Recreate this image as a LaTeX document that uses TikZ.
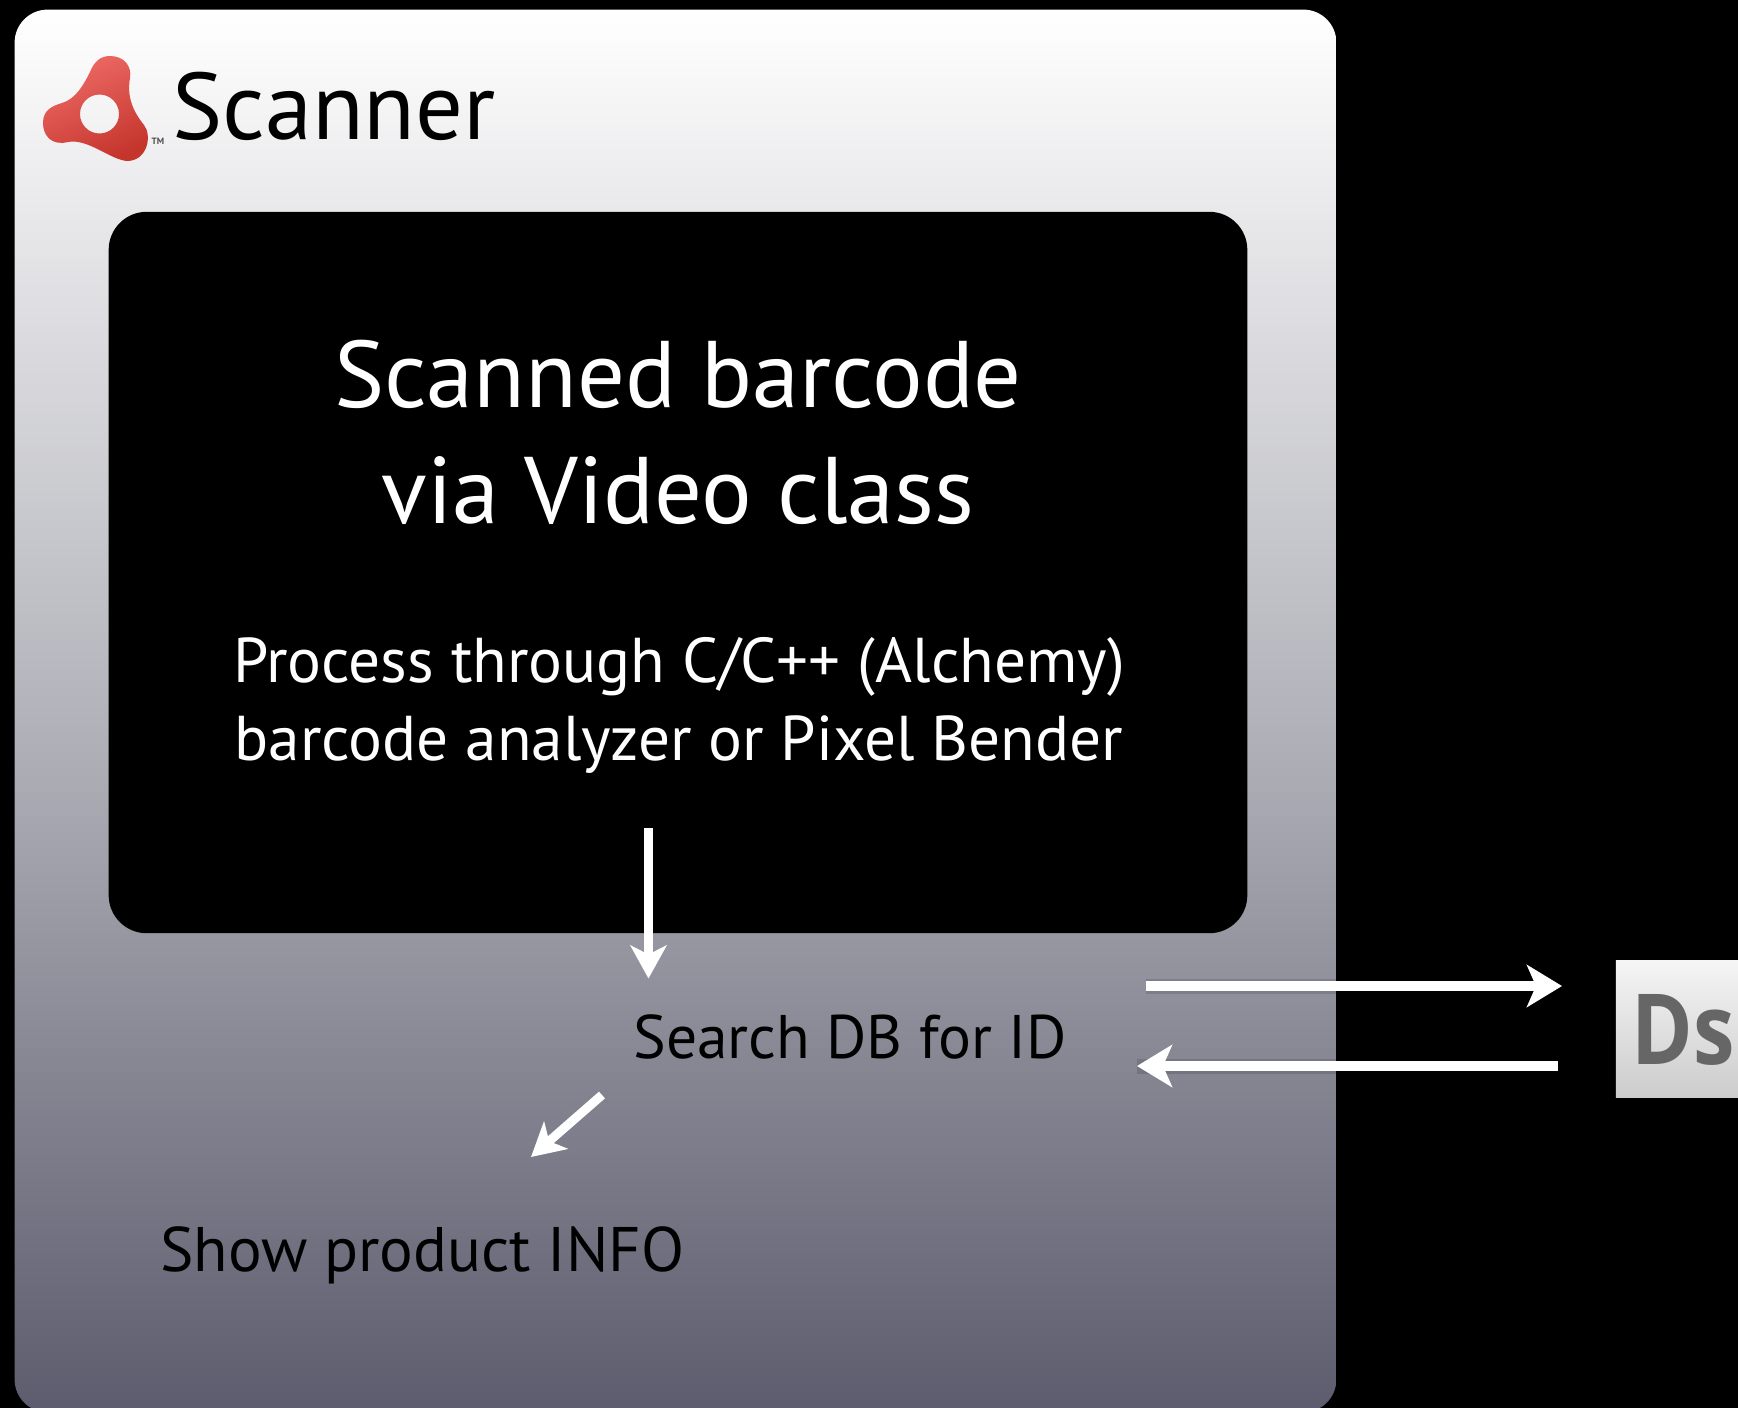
\documentclass[tikz,border=0pt]{standalone}
\usepackage{fontspec}
\setmainfont{PT Sans}
\newfontfamily\dsfont{Open Sans}
\usetikzlibrary{positioning, calc, arrows.meta}
\definecolor{panellow}{HTML}{5C5C6E}
\definecolor{panelmid}{HTML}{858592}
\definecolor{panelhigh}{HTML}{B3B4BB}
\definecolor{panelpale}{HTML}{E3E3E6}
\definecolor{logolight}{HTML}{EE6A66}
\definecolor{logored}{HTML}{E8342A}
\definecolor{logodark}{HTML}{C4352C}
\pgfdeclareverticalshading{panelfade}{100bp}{
    color(0bp)=(panellow); color(25bp)=(panellow);
    color(37bp)=(panelmid); color(50bp)=(panelhigh);
    color(66bp)=(panelpale); color(75bp)=(white); color(100bp)=(white)}
\tikzset{
        panel-box/.style={
            shading=panelfade, minimum width=13.21cm, minimum height=14.02cm,
            rounded corners=.33cm
        },
        inner-box/.style={
            fill=black, minimum width=11.38cm, minimum height=7.21cm,
            rounded corners=.38cm
        },
        ds-box/.style={
            top color=white!96!black, bottom color=white!80!black,
            minimum width=3.00cm, minimum height=1.36cm
        },
        flow/.style={
            draw=white, line width=.09cm,
            -{Stealth[length=.33cm, width=.36cm, inset=.09cm]}
        },
        flow-wide/.style={
            preaction={draw=black, draw opacity=.12, line width=.15cm, -},
            draw=white, line width=.10cm,
            -{Stealth[length=.35cm, width=.42cm, inset=.09cm]}
        },
}

\begin{document}
\begin{tikzpicture}[x=.01cm, y=-.01cm]

        \path[use as bounding box, clip] (0,0) rectangle (1738,1408);
        \fill[black] (0,0) rectangle (1738,1408);

        % DRAW NODES
        \node[panel-box] (PANEL) at (675.5,711)                    {};
        \node[inner-box] (INNER) at (678,572.5)                    {};
        \node[ds-box]    (DSBOX) at (1766,1029)                    {};
        \node[anchor=base west, font=\fontsize{26.9}{30}\selectfont]
                         (NAME)  at (160,139)                      {Scanner};
        \node[text=white, align=center, font=\fontsize{26.9}{33}\selectfont]
                         (TITLE) at ($(INNER)+(0,-140)$)           {Scanned barcode\\via Video class};
        \node[text=white, align=center, font=\fontsize{18}{22}\selectfont]
                         (STEPS) at ($(INNER)+(1,133)$)            {Process through C/C++ (Alchemy)\\barcode analyzer or Pixel Bender};
        \node[anchor=base west, font=\fontsize{17.5}{22}\selectfont]
                         (SEARCH) at (621,1058)                    {Search DB for ID};
        \node[anchor=base west, font=\fontsize{17.9}{22}\selectfont]
                         (SHOW)  at (148,1271)                     {Show product INFO};
        \node[text=white!40!black, anchor=base west, font=\fontsize{27.9}{30}\selectfont\dsfont\bfseries]
                         (DS)    at (1619,1064)                    {\scalebox{.85}[1]{Ds}};
        \node[font=\fontsize{2.6}{3}\selectfont\bfseries, text=black!70]
                         (TM)    at (158,141)                      {TM};

        % DRAW LOGO
        \shade[even odd rule, top color=logolight, middle color=logored, bottom color=logodark, shading angle=25]
            (110,56) .. controls (124,56) and (132,66) .. (130,78)
            .. controls (127,96) and (132,110) .. (144,125)
            .. controls (152,135) and (148,160) .. (128,161)
            .. controls (112,161) and (88,138) .. (68,142)
            .. controls (52,146) and (43,136) .. (43,123)
            .. controls (43,110) and (52,106) .. (62,103)
            .. controls (76,99) and (84,84) .. (90,72)
            .. controls (94,62) and (100,56) .. (110,56) -- cycle
            (99.5,114) circle (19.5);

        % NAMED ARROW ENDS
        \coordinate (DOWNA) at ($(INNER)+(-29.5,255.5)$);
        \coordinate (DOWNB) at ($(INNER)+(-29.5,406)$);
        \coordinate (SLANTA) at (602,1095);
        \coordinate (SLANTB) at (531,1157);
        \coordinate (OUTA) at (1146,986);
        \coordinate (OUTB) at (1562,986);
        \coordinate (BACKA) at (1558,1066);
        \coordinate (BACKB) at (1137,1066);

        % CONNECT ARROWS
        \draw [flow]      (DOWNA)  -- (DOWNB);
        \draw [flow]      (SLANTA) -- (SLANTB);
        \draw [flow-wide] (OUTA)   -- (OUTB);
        \draw [flow-wide] (BACKA)  -- (BACKB);

\end{tikzpicture}
\end{document}
